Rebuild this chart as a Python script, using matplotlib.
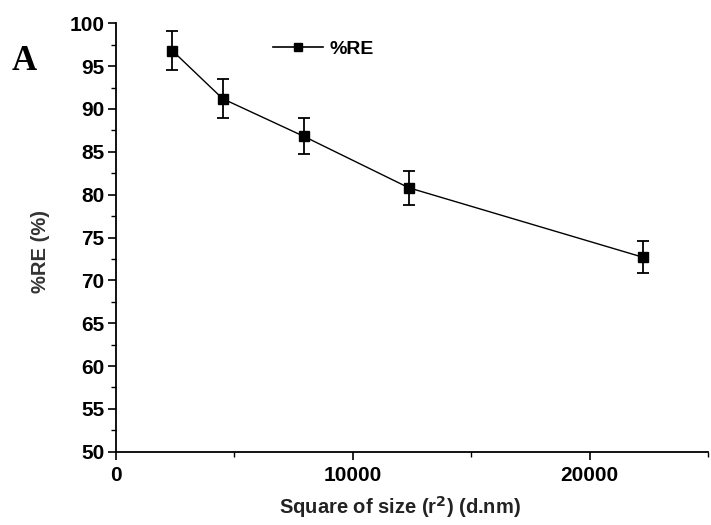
import matplotlib
matplotlib.use("Agg")
import matplotlib.pyplot as plt
from matplotlib.lines import Line2D
from matplotlib.ticker import MultipleLocator

# data
size_sq = [2400, 4520, 7950, 12380, 22250]
re_pct = [96.8, 91.2, 86.8, 80.8, 72.7]
re_err = [2.3, 2.3, 2.1, 2.0, 1.9]

plt.rcParams['font.family'] = ['Liberation Sans', 'DejaVu Sans']

fig = plt.figure(figsize=(7.11, 5.25), dpi=100)
ax = fig.add_axes([0.1625, 0.1396, 0.8333, 0.816])

ax.errorbar(size_sq, re_pct, yerr=re_err, color='black', lw=1.0,
            marker='s', markersize=7, capsize=4, elinewidth=1.3,
            capthick=1.3)

ax.set_xlim(0, 25000)
ax.set_ylim(50, 100)
ax.xaxis.set_major_locator(MultipleLocator(10000))
ax.xaxis.set_minor_locator(MultipleLocator(5000))
ax.yaxis.set_major_locator(MultipleLocator(5))
ax.yaxis.set_minor_locator(MultipleLocator(2.5))

for s in ['top', 'right']:
    ax.spines[s].set_visible(False)
for s in ['left', 'bottom']:
    ax.spines[s].set_linewidth(1.3)

ax.tick_params(which='major', direction='out', length=6, width=1.2, labelsize=15)
ax.tick_params(axis='y', which='major', pad=2)
ax.tick_params(axis='x', which='major', pad=4)
ax.tick_params(which='minor', direction='out', length=3.5, width=1.0)
for lab in ax.get_xticklabels() + ax.get_yticklabels():
    lab.set_fontweight('bold')

ax.set_xlabel('Square of size (r$^\\mathbf{2}$) (d.nm)', fontsize=14.5, fontweight='bold',
              color='#222222')
ax.xaxis.set_label_coords(0.48, -0.1)
ax.set_ylabel('%RE (%)', fontsize=14.5, fontweight='bold', color='#333333')
ax.yaxis.set_label_coords(-0.11, 0.467)

handle = Line2D([], [], color='black', lw=1.2, marker='s', markersize=6)
ax.legend([handle], ['%RE'], loc='center left', bbox_to_anchor=(0.265, 0.94),
          frameon=False, handlelength=2.6, handletextpad=0.35,
          borderaxespad=0, borderpad=0,
          prop={'weight': 'bold', 'size': 14})

fig.text(0.017, 1 - 70 / 525, 'A', fontsize=25, fontweight='bold', va='baseline',
         family=['Liberation Serif', 'DejaVu Serif'])

fig.savefig('out.png', dpi=100)
